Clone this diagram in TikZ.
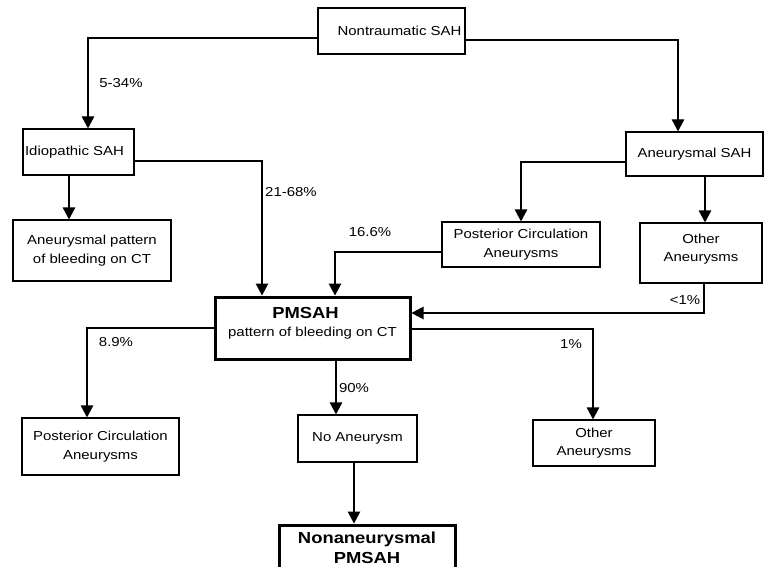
\documentclass[tikz,border=0pt]{standalone}
\usepackage{fontspec}
\setmainfont[FakeStretch=1.15]{Liberation Sans}
\usetikzlibrary{arrows.meta,calc}
\begin{document}
\begin{tikzpicture}[x=1pt,y=-1pt,
 box/.style={draw, line width=1.2pt, rectangle, inner sep=0pt, align=center, font=\fontsize{13}{18.5}\selectfont},
 tbox/.style={box, line width=3pt, font=\fontsize{16}{20}\selectfont\bfseries},
 arr/.style={line width=1.2pt, -{Triangle[length=12pt,width=12.5pt]}},
 pct/.style={font=\fontsize{13}{15}\selectfont, inner sep=0pt}]
\useasboundingbox (0,0) rectangle (765,567);
% boxes
\node[box, minimum width=147pt, minimum height=46pt] (nt) at (391.5,31) {\hspace*{16pt}Nontraumatic SAH};
\node[box, minimum width=111pt, minimum height=46pt] (idio) at (78.5,152) {Idiopathic SAH\hspace*{8pt}};
\node[box, minimum width=158pt, minimum height=61pt] (aps) at (92,250.5) {Aneurysmal pattern\\of bleeding on CT};
\node[box, minimum width=137pt, minimum height=44pt] (asah) at (694.5,154) {Aneurysmal SAH};
\node[box, minimum width=158pt, minimum height=45pt] (pca1) at (521,244.5) {Posterior Circulation\\Aneurysms};
\node[box, minimum width=122pt, minimum height=60pt] (oa1) at (701,253) {Other\\Aneurysms\\[-8pt]\mbox{}};
\node[box, line width=3pt, minimum width=195pt, minimum height=62pt] (pm) at (312.5,328) {{\fontsize{16}{18}\selectfont\bfseries PMSAH}\hspace*{14pt}\\pattern of bleeding on CT\hspace*{14pt}\\[-6pt]\mbox{}};
\node[box, minimum width=157pt, minimum height=57pt] (pca2) at (100.5,446.5) {Posterior Circulation\\Aneurysms};
\node[box, minimum width=119pt, minimum height=47pt] (na) at (357.5,438.5) {No Aneurysm};
\node[box, minimum width=122pt, minimum height=46pt] (oa2) at (594,443) {Other\\Aneurysms};
\node[tbox, minimum width=176pt, minimum height=46pt] (nn) at (367,548) {Nonaneurysmal\\PMSAH};
% helper coordinates
\coordinate (c1) at ($(idio.south)+(-9.5,0)$);
\coordinate (c2) at ($(asah.south)+(10.5,0)$);
\coordinate (c3) at ($(oa1.south)+(3,0)$);
\coordinate (c4) at ($(pm.south)+(23.5,0)$);
\coordinate (c5) at ($(na.south)+(-3.5,0)$);
\coordinate (c6) at ($(pm.east)+(0,-15)$);
% connectors
\draw[arr] ($(nt.west)+(0,7)$) -| ($(idio.north)+(9.5,0)$);
\draw[arr] ($(nt.east)+(0,9)$) -| ($(asah.north)+(-16.5,0)$);
\draw[arr] ($(idio.east)+(0,9)$) -| ($(pm.north)+(-50.5,0)$);
\draw[arr] (c1) -- (c1 |- aps.north);
\draw[arr] ($(asah.west)+(0,8)$) -| (pca1.north);
\draw[arr] (c2) -- (c2 |- oa1.north);
\draw[arr] ($(pca1.west)+(0,7.5)$) -| ($(pm.north)+(22.5,0)$);
\draw[arr] (c3) |- (c6);
\draw[arr] (pm.west) -| ($(pca2.north)+(-13.5,0)$);
\draw[arr] (c4) -- (c4 |- na.north);
\draw[arr] (c5) -- (c5 |- nn.north);
\draw[arr] ($(pm.east)+(0,1)$) -| ($(oa2.north)+(-1,0)$);
% labels
\node[pct] (l1) at (121,83) {5-34\%};
\node[pct] (l2) at (291,192) {21-68\%};
\node[pct] (l3) at (370,232) {16.6\%};
\node[pct] (l4) at (685,300) {<1\%};
\node[pct] (l5) at (116,342) {8.9\%};
\node[pct] (l6) at (354,388) {90\%};
\node[pct] (l7) at (571,344) {1\%};
\end{tikzpicture}
\end{document}
